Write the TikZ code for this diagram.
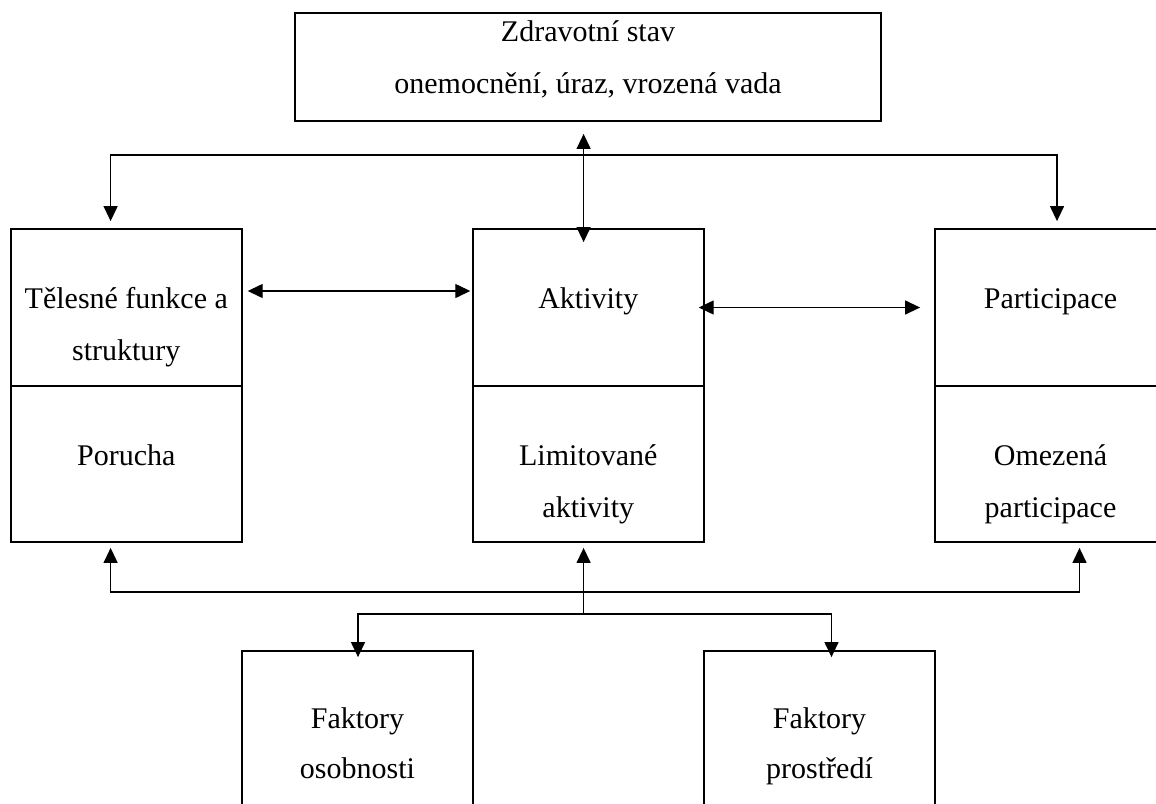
\documentclass[tikz,border=0pt]{standalone}
\usepackage{fontspec}
\setmainfont{Liberation Serif}
\usetikzlibrary{arrows.meta}

\begin{document}
\begin{tikzpicture}[x=1pt, y=-1pt,
  font=\fontsize{30}{36}\selectfont,
  box/.style={draw, line width=1.8pt, minimum width=231pt, minimum height=157pt, inner sep=0pt},
  txt/.style={anchor=base, inner sep=0pt},
  arr/.style={line width=1.3pt, -{Triangle[length=15pt, width=14pt]}},
  dbl/.style={line width=1.3pt, {Triangle[length=15pt, width=14pt]}-{Triangle[length=15pt, width=14pt]}}]
  \useasboundingbox (0,0) rectangle (1156,803);
  \clip (0,0) rectangle (1156,803);

  % Boxes
  \node[box, minimum width=586pt, minimum height=108pt] (stav) at (588,67) {};
  \node[box] (telo) at (126.3,307.5) {};
  \node[box, minimum height=156pt] (porucha) at (126.3,464) {};
  \node[box] (aktiv) at (588.3,307.5) {};
  \node[box, minimum height=156pt] (limit) at (588.3,464) {};
  \node[box] (partic) at (1050.5,307.5) {};
  \node[box, minimum height=156pt] (omez) at (1050.5,464) {};
  \node[box, minimum height=170pt] (osob) at (357.5,736) {};
  \node[box, minimum height=170pt] (prostr) at (819.5,736) {};

  % Texts
  \node[txt] (stavA) at (588,41) {Zdravotní stav};
  \node[txt] (stavB) at (588,93) {onemocnění, úraz, vrozená vada};
  \node[txt] (teloA) at (126.3,308) {Tělesné funkce a};
  \node[txt] (teloB) at (126.3,360) {struktury};
  \node[txt] (aktivA) at (588.3,308) {Aktivity};
  \node[txt] (particA) at (1050.5,308) {Participace};
  \node[txt] (poruchaA) at (126.3,465) {Porucha};
  \node[txt] (limitA) at (588.3,465) {Limitované};
  \node[txt] (limitB) at (588.3,517) {aktivity};
  \node[txt] (omezA) at (1050.5,465) {Omezená};
  \node[txt] (omezB) at (1050.5,517) {participace};
  \node[txt] (osobA) at (357.5,728) {Faktory};
  \node[txt] (osobB) at (357.5,778) {osobnosti};
  \node[txt] (prostrA) at (819.5,728) {Faktory};
  \node[txt] (prostrB) at (819.5,778) {prostředí};

  % Junctions
  \coordinate (topL) at (110.6,155);
  \coordinate (topR) at (1057,155);
  \coordinate (botL) at (110.6,592);
  \coordinate (botR) at (1079.5,592);
  \coordinate (botM) at (583.6,614);
  \coordinate (facL) at (358,614);
  \coordinate (facR) at (831.5,614);

  % Top connectors
  \draw[dbl] ([xshift=-4.4pt, yshift=-12pt]stav.south) -- ([xshift=-4.7pt, yshift=-14pt]aktiv.north);
  \draw[dbl] ([yshift=7pt]telo.north -| topL) -- (topL) -- (topR) -- ([yshift=7pt]partic.north -| topR);
  \draw[dbl] ([xshift=5pt, yshift=16.5pt]telo.east) -- ([xshift=-1.6pt, yshift=16.5pt]aktiv.west);
  \draw[dbl] ([xshift=-6pt]aktiv.east) -- ([xshift=-14pt]partic.west);

  % Bottom connectors
  \draw[dbl] ([yshift=-5pt]porucha.south -| botL) -- (botL) -- (botR) -- ([yshift=-5pt]omez.south -| botR);
  \draw[arr] (botM) -- ([yshift=-5pt]limit.south -| botM);
  \draw[dbl] ([yshift=-7pt]osob.north -| facL) -- (facL) -- (facR) -- ([yshift=-7pt]prostr.north -| facR);
\end{tikzpicture}
\end{document}
